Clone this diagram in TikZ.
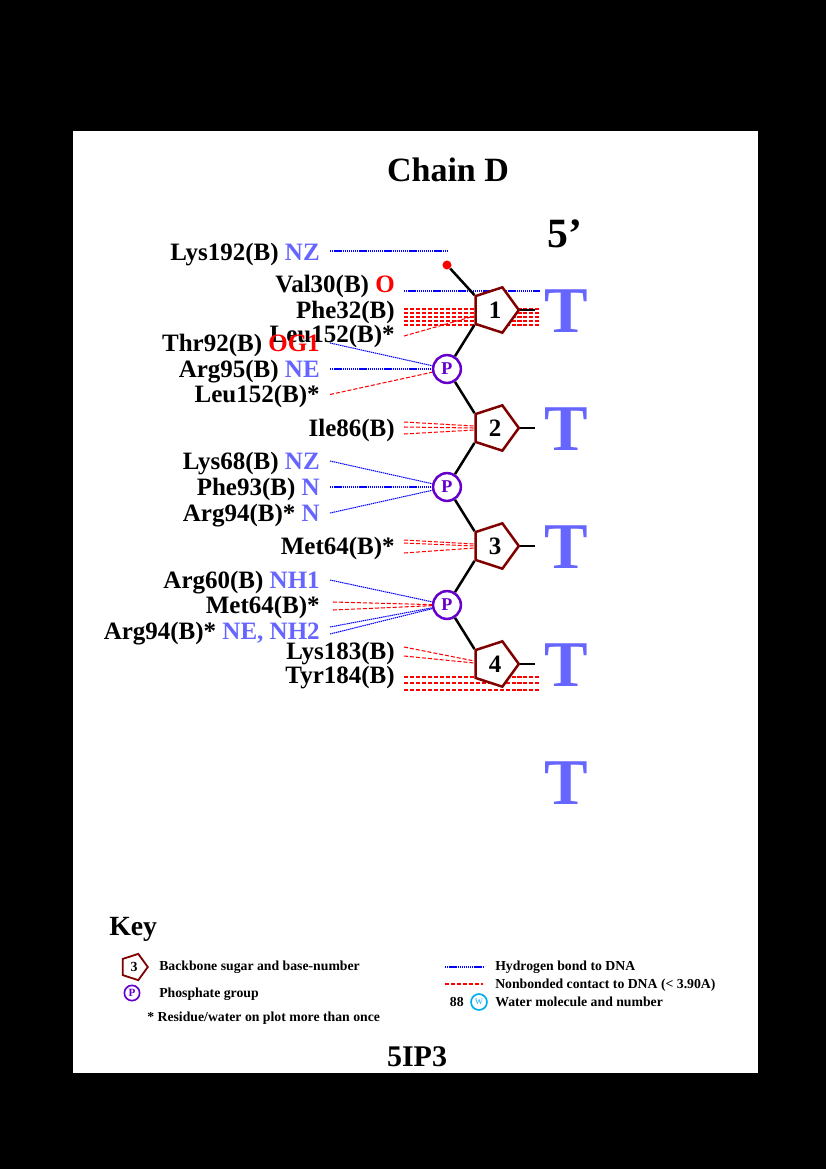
\documentclass[tikz,border=0pt]{standalone}
\usepackage{fontspec}
\setmainfont{Liberation Serif}
\usetikzlibrary{shapes.geometric}
\definecolor{atomblue}{RGB}{102,102,255}
\definecolor{sugarred}{RGB}{128,0,0}
\definecolor{phosviolet}{RGB}{102,0,204}
\pgfdeclarelayer{paper}
\pgfdeclarelayer{contacts}
\pgfsetlayers{paper,contacts,main}

\begin{document}
\begin{tikzpicture}[x=0.72pt,y=-0.72pt,
    lab/.style={anchor=east,inner sep=0pt,text height=12pt,text depth=0pt,font=\fontsize{18}{20}\selectfont\bfseries},
    sugar/.style={regular polygon,regular polygon sides=5,shape border rotate=-90,draw=sugarred,fill=white,line width=1.8pt,minimum size=34.3pt,inner sep=0pt,font=\fontsize{18}{20}\selectfont\bfseries},
    phos/.style={circle,draw=phosviolet,fill=white,line width=1.8pt,minimum size=20pt,inner sep=0pt,text=phosviolet,font=\fontsize{13}{14}\selectfont\bfseries},
    bb/.style={line width=1.8pt},
    hb/.style={draw=blue,dash pattern=on 1pt off 0.5pt,line width=0.75pt},
    nb/.style={draw=red,dash pattern=on 2.9pt off 1.4pt,line width=0.75pt},
    base/.style={anchor=base,text=atomblue,font=\fontsize{47}{50}\selectfont\bfseries},
    keytxt/.style={anchor=base west,inner sep=0pt,font=\fontsize{9.9}{11}\selectfont\bfseries}]
    \begin{pgfonlayer}{paper}
    \fill[black] (0,0) rectangle (826,1169);
    \fill[white] (73,131) rectangle (758,1073);
    \end{pgfonlayer}
    \node[anchor=base,font=\fontsize{24.5}{27}\selectfont\bfseries] (title) at (448,181) {Chain D};
    \node[anchor=base,font=\fontsize{30}{33}\selectfont\bfseries] (end5lab) at (565,247) {5’};
    \node[circle,fill=red,minimum size=6.5pt,inner sep=0pt] (end5) at (447,265) {};
    \node[sugar] (s1) at (495,310) {1};
    \node[phos] (p1) at (447,369) {P};
    \node[sugar] (s2) at (495,428) {2};
    \node[phos] (p2) at (447,487) {P};
    \node[sugar] (s3) at (495,546) {3};
    \node[phos] (p3) at (447,605) {P};
    \node[sugar] (s4) at (495,664) {4};
    \draw[bb] (end5) -- (s1.corner 3);
    \draw[bb] (s1.corner 4) -- (p1);
    \draw[bb] (p1) -- (s2.corner 3);
    \draw[bb] (s2.corner 4) -- (p2);
    \draw[bb] (p2) -- (s3.corner 3);
    \draw[bb] (s3.corner 4) -- (p3);
    \draw[bb] (p3) -- (s4.corner 3);
    \foreach \s in {s1,s2,s3,s4}
        \draw[bb] (\s.corner 1) -- ++(15,0);
    \foreach \y in {332,450,568,686,804}
        \node[base] at (566,\y) {T};
    \node[lab] (lys192) at (320,252) {Lys192(B) \textcolor{atomblue}{NZ}};
    \node[lab] (val30) at (395,284) {Val30(B) \textcolor{red}{O}};
    \node[lab] (phe32) at (395,310.5) {Phe32(B)};
    \node[lab] (leu152a) at (395,334.5) {Leu152(B)*};
    \node[lab] (thr92) at (320,343) {Thr92(B) \textcolor{red}{OG1}};
    \node[lab] (arg95) at (320,369) {Arg95(B) \textcolor{atomblue}{NE}};
    \node[lab] (leu152b) at (320,394.5) {Leu152(B)*};
    \node[lab] (ile86) at (395,428) {Ile86(B)};
    \node[lab] (lys68) at (320,461) {Lys68(B) \textcolor{atomblue}{NZ}};
    \node[lab] (phe93) at (320,487) {Phe93(B) \textcolor{atomblue}{N}};
    \node[lab] (arg94a) at (320,513) {Arg94(B)* \textcolor{atomblue}{N}};
    \node[lab] (met64a) at (395,546.5) {Met64(B)*};
    \node[lab] (arg60) at (320,580) {Arg60(B) \textcolor{atomblue}{NH1}};
    \node[lab] (met64b) at (320,605.5) {Met64(B)*};
    \node[lab] (arg94b) at (320,631.5) {Arg94(B)* \textcolor{atomblue}{NE, NH2}};
    \node[lab] (lys183) at (395,651) {Lys183(B)};
    \node[lab] (tyr184) at (395,675.5) {Tyr184(B)};
    \begin{pgfonlayer}{contacts}
    \draw[hb] ([shift={(10,-1)}]lys192.east) -- ++(117,0);
    \draw[hb] ([shift={(9,7)}]val30.east) -- ++(136,0);
    \foreach \d in {-1.5,2.5,6.5}
        \draw[nb] ([shift={(9,\d)}]phe32.east) -- ++(136,0);
    \foreach \d in {-13.5,-9.5}
        \draw[nb] ([shift={(9,\d)}]leu152a.east) -- ++(136,0);
    \draw[nb] ([shift={(9,1.5)}]leu152a.east) -- ([shift={(0,6)}]s1.west);
    \draw[hb] ([shift={(10,0)}]thr92.east) -- (p1);
    \draw[hb] ([shift={(10,0)}]arg95.east) -- (p1);
    \draw[nb] ([shift={(10,0)}]leu152b.east) -- (p1);
    \foreach \d/\e in {-6/-2,-1/0,6/2}
        \draw[nb] ([shift={(9,\d)}]ile86.east) -- ([shift={(0,\e)}]s2.west);
    \draw[hb] ([shift={(10,0)}]lys68.east) -- (p2);
    \draw[hb] ([shift={(10,0)}]phe93.east) -- (p2);
    \draw[hb] ([shift={(10,0)}]arg94a.east) -- (p2);
    \foreach \d/\e in {-6.5/-2,-3.5/0,6.5/2}
        \draw[nb] ([shift={(9,\d)}]met64a.east) -- ([shift={(0,\e)}]s3.west);
    \draw[hb] ([shift={(10,0)}]arg60.east) -- (p3);
    \foreach \d in {-3.5,4.5}
        \draw[nb] ([shift={(13,\d)}]met64b.east) -- (p3);
    \foreach \d in {-4.5,2.5}
        \draw[hb] ([shift={(10,\d)}]arg94b.east) -- (p3);
    \foreach \d/\e in {-4/-3,5/-1}
        \draw[nb] ([shift={(9,\d)}]lys183.east) -- ([shift={(0,\e)}]s4.west);
    \foreach \d in {1.5,7.5,14.5}
        \draw[nb] ([shift={(9,\d)}]tyr184.east) -- ++(136,0);
    \end{pgfonlayer}
    \node[anchor=base west,inner sep=0pt,font=\fontsize{20}{22}\selectfont\bfseries] (keytitle) at (109,935) {Key};
    \node[sugar,minimum size=19.9pt,line width=1.3pt,font=\fontsize{10}{11}\selectfont\bfseries] (keysugar) at (134,967) {3};
    \node[keytxt] (keysugartxt) at (159,970.5) {Backbone sugar and base-number};
    \node[phos,minimum size=11pt,line width=1.2pt,font=\fontsize{8}{9}\selectfont\bfseries] (keyphos) at (132,993) {P};
    \node[keytxt] (keyphostxt) at (159,997) {Phosphate group};
    \node[keytxt] (keystar) at (147,1021.5) {* Residue/water on plot more than once};
    \coordinate (keyhb) at (445,967);
    \draw[hb] (keyhb) -- ++(38,0);
    \node[keytxt] (keyhbtxt) at (495,970.5) {Hydrogen bond to DNA};
    \coordinate (keynb) at (445,984);
    \draw[nb] (keynb) -- ++(38,0);
    \node[keytxt] (keynbtxt) at (495,988.5) {Nonbonded contact to DNA (< 3.90A)};
    \node[keytxt,anchor=base east] (keywnum) at (464,1006.5) {88};
    \node[circle,draw=cyan,line width=1.2pt,minimum size=11.5pt,inner sep=0pt,text=cyan,font=\fontsize{6}{7}\selectfont] (keywat) at (479,1002) {W};
    \node[keytxt] (keywattxt) at (495,1006.5) {Water molecule and number};
    \node[anchor=base,font=\fontsize{21.6}{24}\selectfont\bfseries] (pdbcode) at (417,1066) {5IP3};
\end{tikzpicture}
\end{document}
